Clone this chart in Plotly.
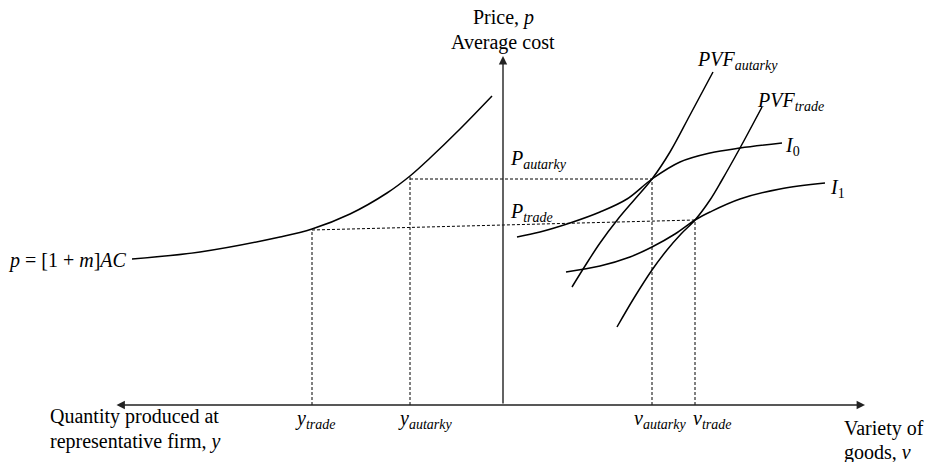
import plotly.graph_objects as go

# ---- Data (diagram units: origin at the axes' crossing) ----
ac_x = [-371, -303, -223, -191, -153, -116, -93, -73, -43, -11]
ac_y = [146, 153, 168, 176, 191, 212, 229, 247, 276, 309]

i0_x = [14, 37, 67, 97, 124, 149, 177, 207, 237, 279]
i0_y = [168, 173, 182, 193, 206, 226, 243, 252, 257, 262]

i1_x = [63, 97, 127, 149, 172, 192, 207, 237, 277, 322]
i1_y = [133, 139, 148, 158, 171, 185, 193, 206, 216, 222]

pvf_aut_x = [69, 82, 97, 115, 132, 149, 167, 187, 210]
pvf_aut_y = [118, 139, 162, 186, 206, 226, 253, 290, 333]

pvf_trd_x = [114, 131, 149, 164, 178, 192, 207, 219, 237, 259]
pvf_trd_y = [78, 107, 135, 155, 171, 185, 205, 225, 257, 298]

Q_TRADE = -191
Q_AUTARKY = -93
V_AUTARKY = 149
V_TRADE = 192
P_AUTARKY = 226
P_TRADE_LEFT = 175
P_TRADE_RIGHT = 185
AC_AT_Q_AUTARKY = 229

X_AXIS_LEFT = -388
X_AXIS_RIGHT = 362
Y_AXIS_TOP = 349

FONT = "Liberation Serif"

fig = go.Figure()

curve = dict(color="black", width=1.5, shape="spline", smoothing=1.0)
for xs, ys in [(ac_x, ac_y), (i0_x, i0_y), (i1_x, i1_y),
               (pvf_aut_x, pvf_aut_y), (pvf_trd_x, pvf_trd_y)]:
    fig.add_trace(go.Scatter(x=xs, y=ys, mode="lines", line=curve,
                             hoverinfo="skip"))

dot = dict(color="black", width=1, dash="3px,2px")
dotted = [
    ([Q_AUTARKY, V_AUTARKY], [P_AUTARKY, P_AUTARKY]),
    ([Q_AUTARKY, Q_AUTARKY], [0, AC_AT_Q_AUTARKY]),
    ([V_AUTARKY, V_AUTARKY], [0, P_AUTARKY]),
    ([Q_TRADE, V_TRADE], [P_TRADE_LEFT, P_TRADE_RIGHT]),
    ([Q_TRADE, Q_TRADE], [0, P_TRADE_LEFT]),
    ([V_TRADE, V_TRADE], [0, P_TRADE_RIGHT]),
]
for xs, ys in dotted:
    fig.add_trace(go.Scatter(x=xs, y=ys, mode="lines", line=dot,
                             hoverinfo="skip"))

# axes with arrows
fig.add_annotation(x=X_AXIS_RIGHT, y=0, ax=X_AXIS_LEFT, ay=0,
                   xref="x", yref="y", axref="x", ayref="y",
                   showarrow=True, arrowhead=2, arrowside="end+start",
                   arrowsize=1.2, arrowwidth=1.4, arrowcolor="#222", text="")
fig.add_annotation(x=0, y=Y_AXIS_TOP, ax=0, ay=0,
                   xref="x", yref="y", axref="x", ayref="y",
                   showarrow=True, arrowhead=2, arrowsize=1.2,
                   arrowwidth=1.4, arrowcolor="#222", text="")

labels = [
    ("Price, <i>p</i>", 0, 388, "center"),
    ("Average cost", 0, 363, "center"),
    ("<i>P</i><sub><i>autarky</i></sub>", 5, 246, "left"),
    ("<i>P</i><sub><i>trade</i></sub>", 5, 193, "left"),
    ("<i>PVF</i><sub><i>autarky</i></sub>", 192, 345, "left"),
    ("<i>PVF</i><sub><i>trade</i></sub>", 252, 304, "left"),
    ("<i>I</i><sub>0</sub>", 280, 259, "left"),
    ("<i>I</i><sub>1</sub>", 325, 217, "left"),
    ("<i>p</i> = [1 + <i>m</i>]<i>AC</i>", -374, 145, "right"),
    ("Quantity produced at", -455, -11, "left"),
    ("representative firm, <i>y</i>", -455, -36, "left"),
    ("<i>y</i><sub><i>trade</i></sub>", -188, -14, "center"),
    ("<i>y</i><sub><i>autarky</i></sub>", -78, -14, "center"),
    ("<i>v</i><sub><i>autarky</i></sub>", 157, -14, "center"),
    ("<i>v</i><sub><i>trade</i></sub>", 209, -14, "center"),
    ("Variety of", 339, -23, "left"),
    ("goods, <i>v</i>", 339, -47, "left"),
]
for text, x, y, xa in labels:
    fig.add_annotation(x=x, y=y, xref="x", yref="y", text=text,
                       showarrow=False, xanchor=xa, yanchor="middle",
                       font=dict(family=FONT, size=20, color="black"))

fig.update_layout(
    width=936, height=462,
    margin=dict(l=0, r=0, t=0, b=0),
    paper_bgcolor="white", plot_bgcolor="white",
    showlegend=False,
    xaxis=dict(range=[-503, 433], visible=False, fixedrange=True),
    yaxis=dict(range=[-57, 405], visible=False, fixedrange=True),
)

# remove the page's default 8px body margin so the figure fills the window
fig.write_html("out.html",
               config={"displayModeBar": False, "staticPlot": True},
               post_script="document.body.style.margin='0';"
                           "document.body.style.overflow='hidden';")
